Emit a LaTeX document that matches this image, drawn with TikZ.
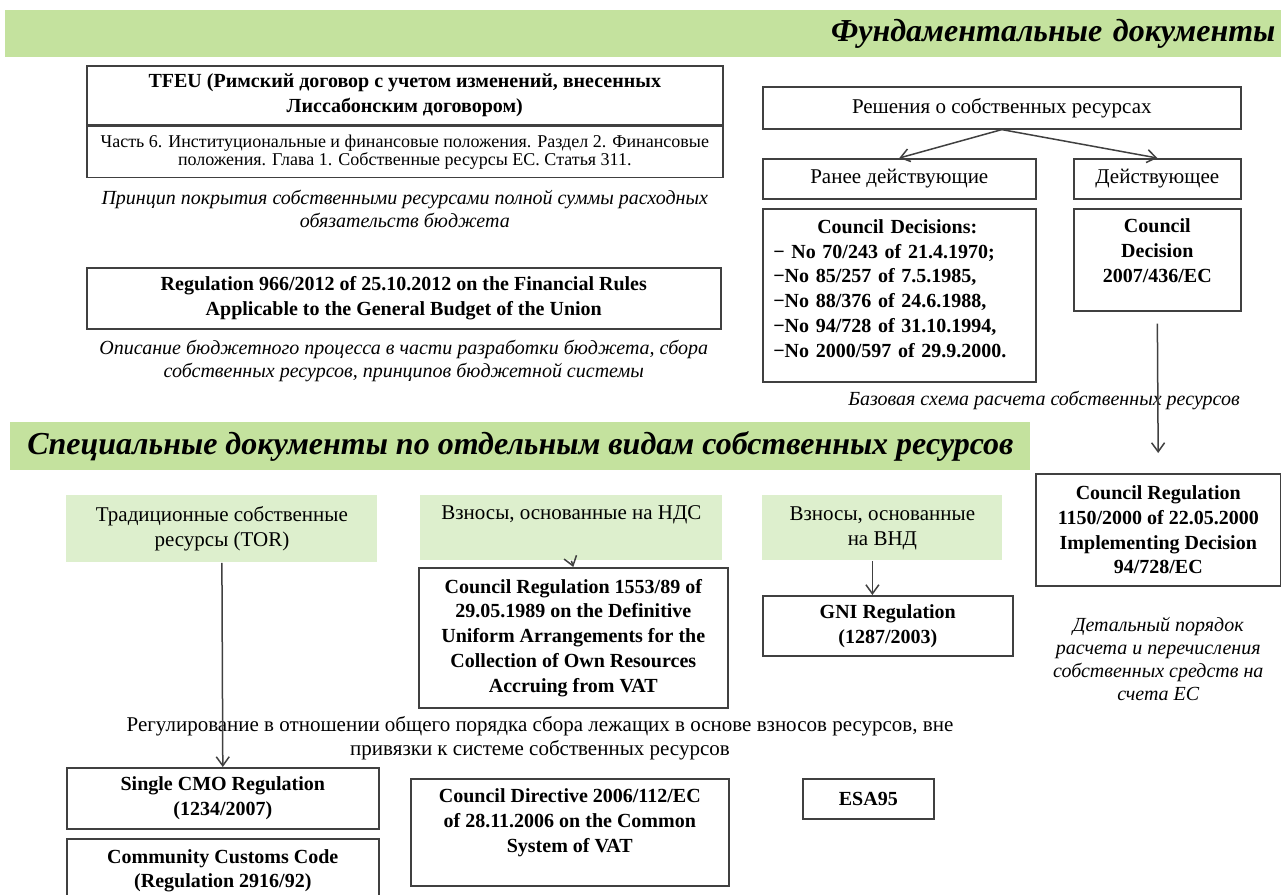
\documentclass[tikz,border=0pt]{standalone}
\usepackage{fontspec}
\setmainfont{Liberation Serif}
\usetikzlibrary{arrows.meta,positioning}
\definecolor{bandgreen}{HTML}{C4E29E}
\definecolor{resgreen}{HTML}{DDEFCD}
\definecolor{docline}{HTML}{404040}

\begin{document}
\begin{tikzpicture}[x=0.5pt, y=-0.5pt,
    node distance=2pt,
    doc/.style={draw=docline, line width=0.8pt, fill=white, align=center, inner sep=2pt, anchor=north west,
                font=\bfseries\fontsize{10}{12.4}\selectfont},
    txt/.style={doc, font=\fontsize{10.5}{12.5}\selectfont},
    res/.style={fill=resgreen, align=center, inner sep=2pt, anchor=north west, font=\fontsize{10.5}{12.5}\selectfont},
    band/.style={fill=bandgreen, inner sep=2pt, anchor=north west, font=\bfseries\itshape\fontsize{16}{18}\selectfont},
    note/.style={align=center, inner sep=1pt, font=\itshape\fontsize{10}{11.5}\selectfont},
    arr/.style={-{Straight Barb[length=4.5pt,width=6.5pt]}, line width=0.75pt, color=docline}
  ]
  \useasboundingbox (0,0) rectangle (1281,895);
  \node[band, minimum width=638pt, minimum height=23.5pt, text width=632pt, align=right] (fund) at (5,10) {Фундаментальные документы};
  \node[doc, minimum width=318pt, minimum height=29.5pt] (tfeu) at (86,65) {TFEU (Римский договор с учетом изменений, внесенных\\Лиссабонским договором)};
  \node[doc, anchor=north, minimum width=318pt, minimum height=25.5pt, font=\fontsize{9}{9}\selectfont] (art) at (tfeu.south)
    {Часть 6. Институциональные и финансовые положения. Раздел 2. Финансовые\\положения. Глава 1. Собственные ресурсы ЕС. Статья 311.};
  \node[note, below=5pt of art] (cover) {Принцип покрытия собственными ресурсами полной суммы расходных\\обязательств бюджета};
  \node[doc, minimum width=317pt, minimum height=30.5pt] (finreg) at (86,267) {Regulation 966/2012 of 25.10.2012 on the Financial Rules\\Applicable to the General Budget of the Union};
  \node[note, below=4pt of finreg] (process) {Описание бюджетного процесса в части разработки бюджета, сбора\\собственных ресурсов, принципов бюджетной системы};
  \node[txt, minimum width=239pt, minimum height=21pt] (dec) at (762,86) {Решения о собственных ресурсах};
  \node[txt, minimum width=136.5pt, minimum height=20pt] (old) at (762,158) {Ранее действующие};
  \node[txt, minimum width=83.5pt, minimum height=20pt] (cur) at (1073,158) {Действующее};
  \node[doc, minimum width=136.5pt, minimum height=86.5pt, align=left, text width=126pt, text depth=69pt] (olddec) at (762,208)
    {\hspace*{22pt}Council Decisions:\\− No 70/243 of 21.4.1970;\\−No 85/257 of 7.5.1985,\\−No 88/376 of 24.6.1988,\\−No 94/728 of 31.10.1994,\\−No 2000/597 of 29.9.2000.};
  \node[doc, minimum width=83.5pt, minimum height=51pt, text depth=9pt] (curdec) at (1073,208) {Council\\Decision\\2007/436/EC};
  \node[note] (base) at (1044,400) {Базовая схема расчета собственных ресурсов};
  \node[band, minimum width=510pt, minimum height=24pt] (spec) at (10,422) {Специальные документы по отдельным видам собственных ресурсов};
  \node[doc, minimum width=122.5pt, minimum height=56pt] (impl) at (1035,473) {Council Regulation\\1150/2000 of 22.05.2000\\Implementing Decision\\94/728/EC};
  \node[note, below=14pt of impl] (detail) {Детальный порядок\\расчета и перечисления\\собственных средств на\\счета ЕС};
  \node[res, minimum width=155.5pt, minimum height=33.5pt] (tor) at (66,495) {Традиционные собственные\\ресурсы (TOR)};
  \node[res, minimum width=151pt, minimum height=32.5pt, text depth=15pt] (vat) at (420,495) {Взносы, основанные на НДС};
  \node[res, minimum width=120pt, minimum height=32.5pt] (gni) at (762,495) {Взносы, основанные\\на ВНД};
  \node[doc, minimum width=154.5pt, minimum height=70pt] (vatreg) at (418,567) {Council Regulation 1553/89 of\\29.05.1989 on the Definitive\\Uniform Arrangements for the\\Collection of Own Resources\\Accruing from VAT};
  \node[doc, minimum width=125pt, minimum height=30pt] (gnireg) at (762,595) {GNI Regulation\\(1287/2003)};
  \node[align=center, font=\fontsize{10.5}{12}\selectfont] (general) at (540,738) {Регулирование в отношении общего порядка сбора лежащих в основе взносов ресурсов, вне\\привязки к системе собственных ресурсов};
  \node[doc, minimum width=156pt, minimum height=30.5pt] (cmo) at (66,767) {Single CMO Regulation\\(1234/2007)};
  \node[doc, minimum width=156pt, minimum height=32pt] (customs) at (66,838) {Community Customs Code\\(Regulation 2916/92)};
  \node[doc, minimum width=159pt, minimum height=53.5pt, text depth=11.5pt] (vatdir) at (410,778) {Council Directive 2006/112/EC\\of 28.11.2006 on the Common\\System of VAT};
  \node[doc, minimum width=65.5pt, minimum height=20pt] (esa) at (802,778) {ESA95};
  \draw[arr] (dec.south) -- (old.north);
  \draw[arr] (dec.south) -- (cur.north);
  \draw[arr, shorten <=6pt, shorten >=10pt] (curdec.south) -- (impl.north);
  \draw[arr] (tor.south) -- (cmo.north);
  \draw[arr] (vat.south) -- (vatreg.north);
  \draw[arr] ([xshift=-5pt]gni.south) -- ([xshift=-5pt]gni.south |- gnireg.north);
\end{tikzpicture}
\end{document}
